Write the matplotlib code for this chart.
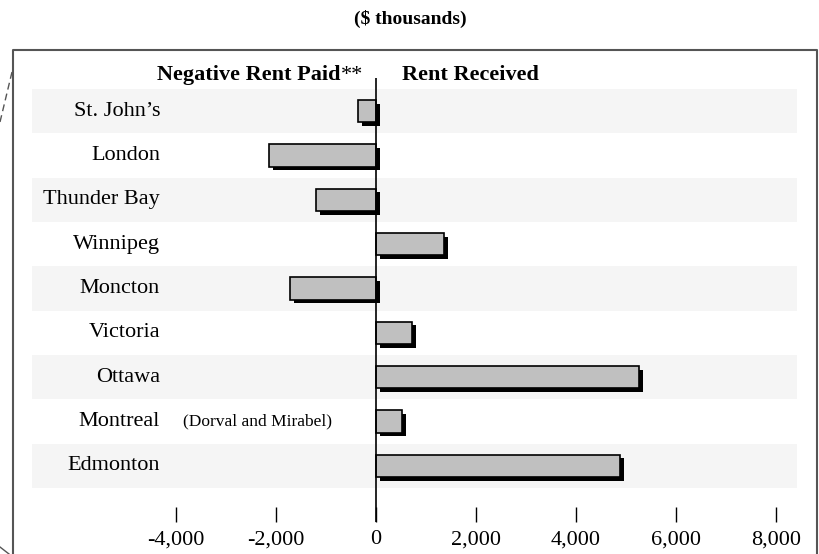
import matplotlib
matplotlib.use("Agg")
import matplotlib.pyplot as plt
import matplotlib.patheffects as pe
from matplotlib.lines import Line2D

# data (values in $ thousands)
cities = ["St. John\u2019s", "London", "Thunder Bay", "Winnipeg", "Moncton",
          "Victoria", "Ottawa", "Montreal", "Edmonton"]
rent = [-360, -2140, -1200, 1360, -1720, 720, 5260, 520, 4880]
xticks = [-4000, -2000, 0, 2000, 4000, 6000, 8000]
xtick_labels = ["-4,000", "-2,000", "0", "2,000", "4,000", "6,000", "8,000"]

W, H = 820, 554
plt.rcParams['font.family'] = ['Liberation Serif', 'DejaVu Serif']

fig = plt.figure(figsize=(W / 100, H / 100), dpi=100)

# axes placed so that 0 sits at x=376px and 2,000 = 100px
ax = fig.add_axes([32 / W, (H - 488) / H, 765 / W, 399 / H])
ax.set_xlim(-6880, 8420)
ax.set_ylim(len(cities) - 0.5, -0.5)

# alternating row bands
for i in range(0, len(cities), 2):
    ax.axhspan(i - 0.5, i + 0.5, color="#f5f5f5", lw=0, zorder=0)

shadow = [pe.SimplePatchShadow(offset=(2.6, -2.6), shadow_rgbFace="black", alpha=1.0),
          pe.Normal()]
bars = ax.barh(range(len(cities)), rent, height=0.5, color="#c0c0c0",
               edgecolor="black", linewidth=1.2, zorder=3)
for b in bars:
    b.set_path_effects(shadow)

# zero line running from header down through tick row
ax.vlines(0, -0.75, 9.27, color="black", lw=1.2, clip_on=False, zorder=4)

# city labels
for i, c in enumerate(cities):
    ax.text(-4320, i, c, ha="right", va="center", fontsize=16)
ax.text(-3870, cities.index("Montreal"), "(Dorval and Mirabel)", ha="left",
        va="center", fontsize=12.5)

# ticks below the plot
for s in ["top", "right", "left"]:
    ax.spines[s].set_visible(False)
ax.spines["bottom"].set_position(("outward", 24.5))
ax.spines["bottom"].set_visible(False)
ax.set_yticks([])
ax.set_xticks(xticks)
ax.set_xticklabels(xtick_labels, fontsize=16)
ax.tick_params(axis="x", direction="in", length=11, width=1, pad=6)
ax.patch.set_alpha(0)

# headers
fig.text(410 / W, 1 - 24 / H, "($ thousands)", ha="center", va="baseline",
         fontsize=14, fontweight="bold")
fig.text(341 / W, 1 - 80 / H, "Negative Rent Paid", ha="right", va="baseline",
         fontsize=16, fontweight="bold")
fig.text(341 / W, 1 - 80 / H, "**", ha="left", va="baseline", fontsize=16)
fig.text(402 / W, 1 - 80 / H, "Rent Received", ha="left", va="baseline",
         fontsize=16, fontweight="bold")

# outer frame (cut off at the bottom) and stray dashed marks at left
frame_col = "#555555"
fig.add_artist(Line2D([13 / W, 13 / W, 817 / W, 817 / W],
                      [0, 1 - 50 / H, 1 - 50 / H, 0], color=frame_col, lw=1.5))
fig.add_artist(Line2D([12 / W, 0], [1 - 72 / H, 1 - 122 / H], color=frame_col,
                      lw=1, ls=(0, (5, 3))))
fig.add_artist(Line2D([0, 9 / W], [1 - 547 / H, 0], color=frame_col, lw=1))

fig.savefig("out.png", dpi=100)
